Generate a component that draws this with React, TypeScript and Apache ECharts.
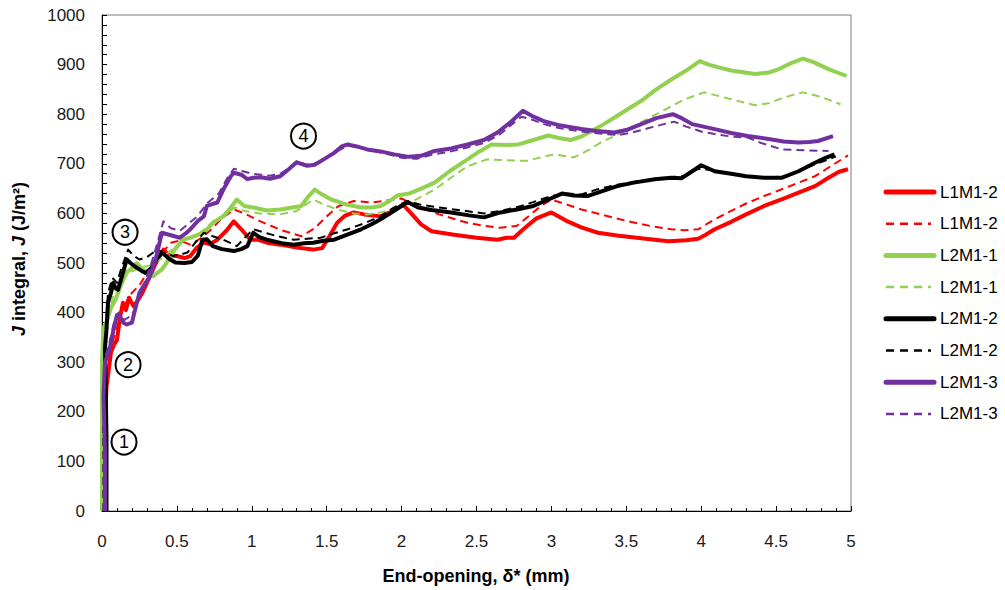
import React, { useEffect, useRef } from "react";
import * as echarts from "echarts";

type Pt = [number, number];

const FONT = "'Liberation Sans', Arial, sans-serif";

const xTicks = [0, 0.5, 1, 1.5, 2, 2.5, 3, 3.5, 4, 4.5, 5];
const yTicks = [0, 100, 200, 300, 400, 500, 600, 700, 800, 900, 1000];

const L1M1_2_solid: Pt[] = [
  [0, 0], [0.0, 40], [0.03, 250], [0.06, 320], [0.08, 335], [0.1, 345], [0.12, 390], [0.14, 420], [0.16, 405],
  [0.18, 430], [0.21, 413], [0.24, 425], [0.27, 440], [0.3, 460], [0.32, 473], [0.36, 500], [0.41, 527],
  [0.45, 515], [0.5, 514], [0.55, 510], [0.59, 514], [0.63, 530], [0.68, 541], [0.72, 538], [0.77, 547],
  [0.83, 565], [0.88, 584], [0.93, 568], [0.99, 547], [1.04, 547], [1.1, 541], [1.19, 537], [1.3, 531],
  [1.41, 527], [1.47, 530], [1.52, 555], [1.57, 581], [1.62, 595], [1.68, 602], [1.75, 598], [1.86, 594],
  [1.92, 602], [1.97, 610], [2.01, 618], [2.07, 598], [2.13, 578], [2.2, 564], [2.35, 557], [2.5, 551],
  [2.64, 547], [2.7, 551], [2.75, 551], [2.82, 570], [2.9, 590], [3.0, 602], [3.1, 585], [3.2, 572],
  [3.31, 561], [3.45, 555], [3.6, 550], [3.78, 544], [3.9, 546], [3.98, 549], [4.03, 557], [4.09, 568],
  [4.2, 583], [4.3, 598], [4.42, 615], [4.55, 630], [4.65, 642], [4.76, 655], [4.85, 672], [4.92, 684], [4.98, 689],
];

const L1M1_2_dashed: Pt[] = [
  [0.0, 0], [0.01, 150], [0.03, 260], [0.06, 330], [0.1, 370], [0.13, 400], [0.16, 420], [0.2, 440],
  [0.25, 455], [0.3, 480], [0.35, 500], [0.4, 520], [0.46, 541], [0.52, 545], [0.59, 537], [0.65, 548],
  [0.72, 565], [0.8, 590], [0.88, 608], [0.95, 600], [1.05, 585], [1.19, 567], [1.33, 554], [1.42, 570],
  [1.5, 594], [1.58, 615], [1.68, 625], [1.8, 622], [1.95, 628], [2.0, 630], [2.1, 615], [2.25, 598],
  [2.44, 581], [2.55, 575], [2.66, 571], [2.77, 575], [2.85, 595], [2.93, 615], [3.0, 628], [3.1, 618],
  [3.2, 608], [3.33, 598], [3.5, 585], [3.67, 574], [3.8, 568], [3.89, 566], [3.98, 568], [4.09, 588],
  [4.2, 605], [4.3, 620], [4.42, 635], [4.55, 650], [4.65, 662], [4.76, 675], [4.88, 698], [4.98, 717],
];

const L2M1_1_solid: Pt[] = [
  [0.0, 0], [0.0, 300], [0.01, 370], [0.03, 380], [0.06, 410], [0.09, 426], [0.12, 450], [0.16, 480],
  [0.19, 487], [0.23, 500], [0.28, 485], [0.34, 473], [0.4, 487], [0.43, 500], [0.48, 525], [0.54, 547],
  [0.6, 552], [0.68, 561], [0.74, 581], [0.81, 594], [0.86, 612], [0.9, 628], [0.95, 615], [1.01, 612],
  [1.1, 606], [1.19, 608], [1.27, 612], [1.33, 615], [1.38, 635], [1.42, 648], [1.47, 638], [1.53, 628],
  [1.63, 618], [1.73, 612], [1.8, 612], [1.86, 615], [1.92, 625], [1.97, 636], [2.05, 640], [2.13, 650],
  [2.22, 662], [2.32, 685], [2.44, 709], [2.52, 725], [2.6, 739], [2.7, 738], [2.78, 739], [2.88, 748],
  [2.98, 757], [3.05, 752], [3.13, 748], [3.2, 755], [3.27, 766], [3.35, 780], [3.44, 797], [3.52, 812],
  [3.6, 827], [3.7, 850], [3.8, 870], [3.9, 888], [3.99, 907], [4.05, 900], [4.11, 895], [4.2, 888],
  [4.36, 881], [4.45, 884], [4.52, 891], [4.6, 903], [4.68, 912], [4.75, 905], [4.85, 891], [4.97, 877],
];

const L2M1_1_dashed: Pt[] = [
  [0.0, 0], [0.01, 330], [0.04, 390], [0.08, 440], [0.12, 460], [0.18, 480], [0.25, 490], [0.32, 495],
  [0.4, 510], [0.48, 530], [0.55, 545], [0.65, 560], [0.75, 585], [0.83, 600], [0.89, 612], [0.95, 605],
  [1.05, 600], [1.19, 598], [1.3, 605], [1.41, 628], [1.48, 618], [1.57, 608], [1.68, 600], [1.77, 598],
  [1.86, 602], [1.95, 608], [2.06, 622], [2.14, 635], [2.22, 648], [2.33, 672], [2.44, 695], [2.57, 709],
  [2.7, 707], [2.84, 706], [2.94, 714], [3.02, 719], [3.15, 713], [3.25, 728], [3.33, 743], [3.45, 760],
  [3.55, 776], [3.7, 800], [3.89, 830], [4.02, 844], [4.1, 838], [4.2, 830], [4.36, 818], [4.45, 822],
  [4.52, 830], [4.6, 838], [4.68, 844], [4.8, 835], [4.93, 820],
];

const L2M1_2_solid: Pt[] = [
  [0.03, 0], [0.03, 150], [0.02, 330], [0.03, 366], [0.04, 420], [0.06, 440], [0.075, 460], [0.09, 450],
  [0.107, 446], [0.13, 470], [0.165, 507], [0.19, 500], [0.22, 493], [0.26, 485], [0.29, 480], [0.33, 490],
  [0.37, 510], [0.4, 521], [0.45, 508], [0.49, 501], [0.55, 500], [0.6, 502], [0.64, 515], [0.67, 547],
  [0.7, 548], [0.74, 534], [0.8, 528], [0.88, 524], [0.93, 528], [0.97, 534], [1.01, 561], [1.05, 552],
  [1.1, 547], [1.2, 540], [1.28, 537], [1.35, 540], [1.41, 541], [1.48, 545], [1.55, 547], [1.62, 555],
  [1.73, 568], [1.8, 578], [1.86, 588], [1.95, 605], [2.04, 623], [2.11, 612], [2.2, 607], [2.33, 602],
  [2.45, 596], [2.55, 592], [2.66, 602], [2.77, 608], [2.88, 615], [2.98, 628], [3.07, 640], [3.15, 636],
  [3.24, 635], [3.34, 645], [3.44, 655], [3.55, 662], [3.69, 669], [3.8, 672], [3.87, 671], [3.94, 685],
  [4.0, 697], [4.09, 685], [4.2, 680], [4.3, 675], [4.42, 672], [4.54, 672], [4.65, 685], [4.76, 702],
  [4.83, 712], [4.89, 719],
];

const L2M1_2_dashed: Pt[] = [
  [0.01, 0], [0.01, 200], [0.02, 340], [0.04, 440], [0.07, 470], [0.1, 460], [0.13, 490], [0.175, 527],
  [0.21, 515], [0.25, 507], [0.3, 512], [0.37, 527], [0.42, 520], [0.475, 514], [0.52, 517], [0.57, 521],
  [0.62, 540], [0.68, 561], [0.74, 554], [0.81, 547], [0.86, 540], [0.9, 534], [0.95, 550], [1.01, 568],
  [1.1, 560], [1.17, 554], [1.28, 547], [1.37, 549], [1.46, 551], [1.55, 560], [1.64, 568], [1.75, 580],
  [1.86, 594], [1.95, 612], [2.04, 625], [2.12, 618], [2.25, 612], [2.4, 606], [2.55, 600], [2.66, 605],
  [2.8, 615], [2.9, 625], [3.0, 635], [3.1, 640], [3.2, 638], [3.3, 648], [3.44, 658], [3.6, 666],
  [3.75, 672], [3.88, 675], [3.98, 690], [4.05, 688], [4.15, 682], [4.3, 675], [4.45, 672], [4.56, 675],
  [4.66, 686], [4.75, 698], [4.85, 709], [4.9, 715],
];

const L2M1_3_solid: Pt[] = [
  [0.02, 0], [0.02, 120], [0.01, 231], [0.02, 300], [0.05, 325], [0.08, 370], [0.1, 395], [0.12, 393],
  [0.14, 380], [0.165, 376], [0.2, 380], [0.22, 405], [0.25, 440], [0.28, 455], [0.32, 473], [0.36, 510],
  [0.4, 561], [0.46, 556], [0.52, 551], [0.56, 560], [0.59, 568], [0.64, 585], [0.68, 594], [0.7, 615],
  [0.77, 622], [0.81, 648], [0.86, 675], [0.88, 682], [0.93, 678], [0.97, 669], [1.01, 672], [1.06, 673],
  [1.12, 670], [1.19, 675], [1.25, 690], [1.3, 703], [1.37, 696], [1.42, 698], [1.48, 709], [1.55, 722],
  [1.6, 735], [1.64, 739], [1.7, 735], [1.77, 729], [1.86, 725], [1.95, 719], [2.05, 714], [2.13, 716],
  [2.22, 726], [2.33, 731], [2.44, 739], [2.55, 748], [2.64, 763], [2.72, 782], [2.81, 807], [2.88, 795],
  [2.95, 786], [3.05, 778], [3.2, 770], [3.3, 766], [3.42, 763], [3.5, 768], [3.6, 780], [3.7, 792],
  [3.81, 800], [3.87, 792], [3.94, 780], [4.09, 770], [4.2, 762], [4.31, 756], [4.45, 750], [4.55, 745],
  [4.65, 743], [4.72, 744], [4.78, 746], [4.88, 756],
];

const L2M1_3_dashed: Pt[] = [
  [0.01, 0], [0.01, 200], [0.02, 310], [0.05, 340], [0.08, 380], [0.11, 400], [0.15, 385], [0.2, 395],
  [0.23, 413], [0.27, 450], [0.32, 490], [0.36, 530], [0.41, 584], [0.46, 570], [0.52, 565], [0.58, 580],
  [0.64, 595], [0.7, 620], [0.78, 640], [0.83, 668], [0.88, 690], [0.94, 685], [1.0, 680], [1.06, 678],
  [1.12, 676], [1.19, 680], [1.25, 692], [1.3, 705], [1.37, 698], [1.45, 703], [1.55, 722], [1.64, 737],
  [1.72, 733], [1.8, 727], [1.9, 720], [2.0, 712], [2.1, 710], [2.2, 718], [2.33, 725], [2.44, 733],
  [2.55, 742], [2.65, 758], [2.73, 778], [2.8, 795], [2.88, 788], [2.95, 780], [3.05, 772], [3.2, 765],
  [3.35, 760], [3.45, 758], [3.55, 764], [3.65, 772], [3.75, 780], [3.82, 785], [3.9, 775], [4.0, 765],
  [4.09, 760], [4.2, 755], [4.31, 753], [4.4, 742], [4.54, 729], [4.7, 727], [4.85, 726],
];

const annotationLabels = ["1", "2", "3", "4"];
const annotationX = [0.147, 0.174, 0.154, 1.345];
const annotationY = [139, 295, 562, 756];

const seriesNames = ["L1M1-2", "L1M1-2", "L2M1-1", "L2M1-1", "L2M1-2", "L2M1-2", "L2M1-3", "L2M1-3"];
const seriesColors = ["#FF0000", "#FF0000", "#92D050", "#92D050", "#000000", "#000000", "#7030A0", "#7030A0"];
const seriesDashed = [false, true, false, true, false, true, false, true];
const seriesData = [
  L1M1_2_solid, L1M1_2_dashed, L2M1_1_solid, L2M1_1_dashed,
  L2M1_2_solid, L2M1_2_dashed, L2M1_3_solid, L2M1_3_dashed,
];

export default function App() {
  const ref = useRef<HTMLDivElement>(null);

  useEffect(() => {
    if (!ref.current) return;
    const chart = echarts.init(ref.current, undefined, { renderer: "svg" });

    const lineSeries = seriesData.map((d, i) => ({
      name: seriesNames[i] + (seriesDashed[i] ? " (dashed)" : ""),
      type: "line" as const,
      data: d,
      showSymbol: false,
      symbol: "none",
      smooth: false,
      z: 2 + i,
      lineStyle: {
        color: seriesColors[i],
        width: seriesDashed[i] ? 2 : 4,
        type: seriesDashed[i] ? [8, 5] : "solid",
        cap: "butt",
        join: "round",
      },
      itemStyle: { color: seriesColors[i] },
    }));

    const annotationSeries = {
      name: "markers",
      type: "scatter" as const,
      z: 20,
      symbol: "circle",
      symbolSize: 25,
      itemStyle: { color: "#ffffff", borderColor: "#000000", borderWidth: 2, opacity: 1 },
      label: {
        show: true,
        position: "inside",
        formatter: (p: any) => p.value[2],
        color: "#000",
        fontSize: 18,
        fontFamily: FONT,
      },
      emphasis: { disabled: true },
      data: annotationLabels.map((t, i) => [annotationX[i], annotationY[i], t]),
    };

    const legendTop = 192;
    const legendStep = 31.7;
    const legendGraphics: any[] = [];
    seriesNames.forEach((n, i) => {
      const y = legendTop + i * legendStep;
      legendGraphics.push({
        type: "line",
        shape: { x1: 886, y1: y, x2: seriesDashed[i] ? 931 : 934, y2: y },
        style: {
          stroke: seriesColors[i],
          lineWidth: seriesDashed[i] ? 2.5 : 5,
          lineDash: seriesDashed[i] ? [8, 6] : null,
          lineCap: seriesDashed[i] ? "butt" : "round",
        },
      });
      legendGraphics.push({
        type: "text",
        x: 940,
        y: y,
        style: {
          text: n,
          fontSize: 17,
          fontFamily: FONT,
          fill: "#000",
          align: "left",
          verticalAlign: "middle",
        },
      });
    });

    const titleRich = {
      n: { fontSize: 18, fontWeight: "bold", fontFamily: FONT, fill: "#000", color: "#000" },
      i: { fontSize: 18, fontWeight: "bold", fontStyle: "italic", fontFamily: FONT, fill: "#000", color: "#000" },
    };

    chart.setOption({
      animation: false,
      backgroundColor: "#ffffff",
      grid: {
        left: 102,
        right: 154,
        top: 15,
        bottom: 79,
        containLabel: false,
        show: true,
        borderColor: "#7f7f7f",
        borderWidth: 1,
      },
      xAxis: {
        type: "value",
        min: xTicks[0],
        max: xTicks[xTicks.length - 1],
        interval: 0.5,
        axisLine: { show: true, onZero: false, lineStyle: { color: "#000", width: 1 } },
        axisTick: { show: true, inside: true, length: 5, lineStyle: { color: "#000" } },
        minorTick: { show: true, splitNumber: 5, length: 3, lineStyle: { color: "#000" } },
        splitLine: { show: false },
        axisLabel: {
          margin: 22,
          fontSize: 17,
          fontFamily: FONT,
          color: "#1a1a1a",
          formatter: (v: number) => String(v),
        },
      },
      yAxis: {
        type: "value",
        min: yTicks[0],
        max: yTicks[yTicks.length - 1],
        interval: 100,
        axisLine: { show: true, onZero: false, lineStyle: { color: "#000", width: 1 } },
        axisTick: { show: true, inside: true, length: 5, lineStyle: { color: "#000" } },
        minorTick: { show: true, splitNumber: 5, length: 5, lineStyle: { color: "#000" } },
        splitLine: { show: false },
        axisLabel: {
          margin: 17,
          fontSize: 17,
          fontFamily: FONT,
          color: "#1a1a1a",
          formatter: (v: number) => String(v),
        },
      },
      series: [...lineSeries, annotationSeries],
      graphic: [
        ...legendGraphics,
        {
          type: "text",
          x: 476,
          y: 576,
          style: {
            text: "{n|End-opening, δ* (mm)}",
            rich: titleRich,
            align: "center",
            verticalAlign: "middle",
            fontSize: 18,
            fontWeight: "bold",
            fontFamily: FONT,
          },
        },
        {
          type: "text",
          x: 19,
          y: 259,
          rotation: Math.PI / 2,
          style: {
            text: "{i|J}{n| integral, }{i|J}{n| (J/m²)}",
            rich: titleRich,
            align: "center",
            verticalAlign: "middle",
            fontSize: 18,
            fontWeight: "bold",
            fontFamily: FONT,
          },
        },
      ],
    });

    return () => {
      chart.dispose();
    };
  }, []);

  return (
    <div
      ref={ref}
      style={{ position: "fixed", left: 0, top: 0, width: 1005, height: 590, background: "#fff" }}
    />
  );
}
